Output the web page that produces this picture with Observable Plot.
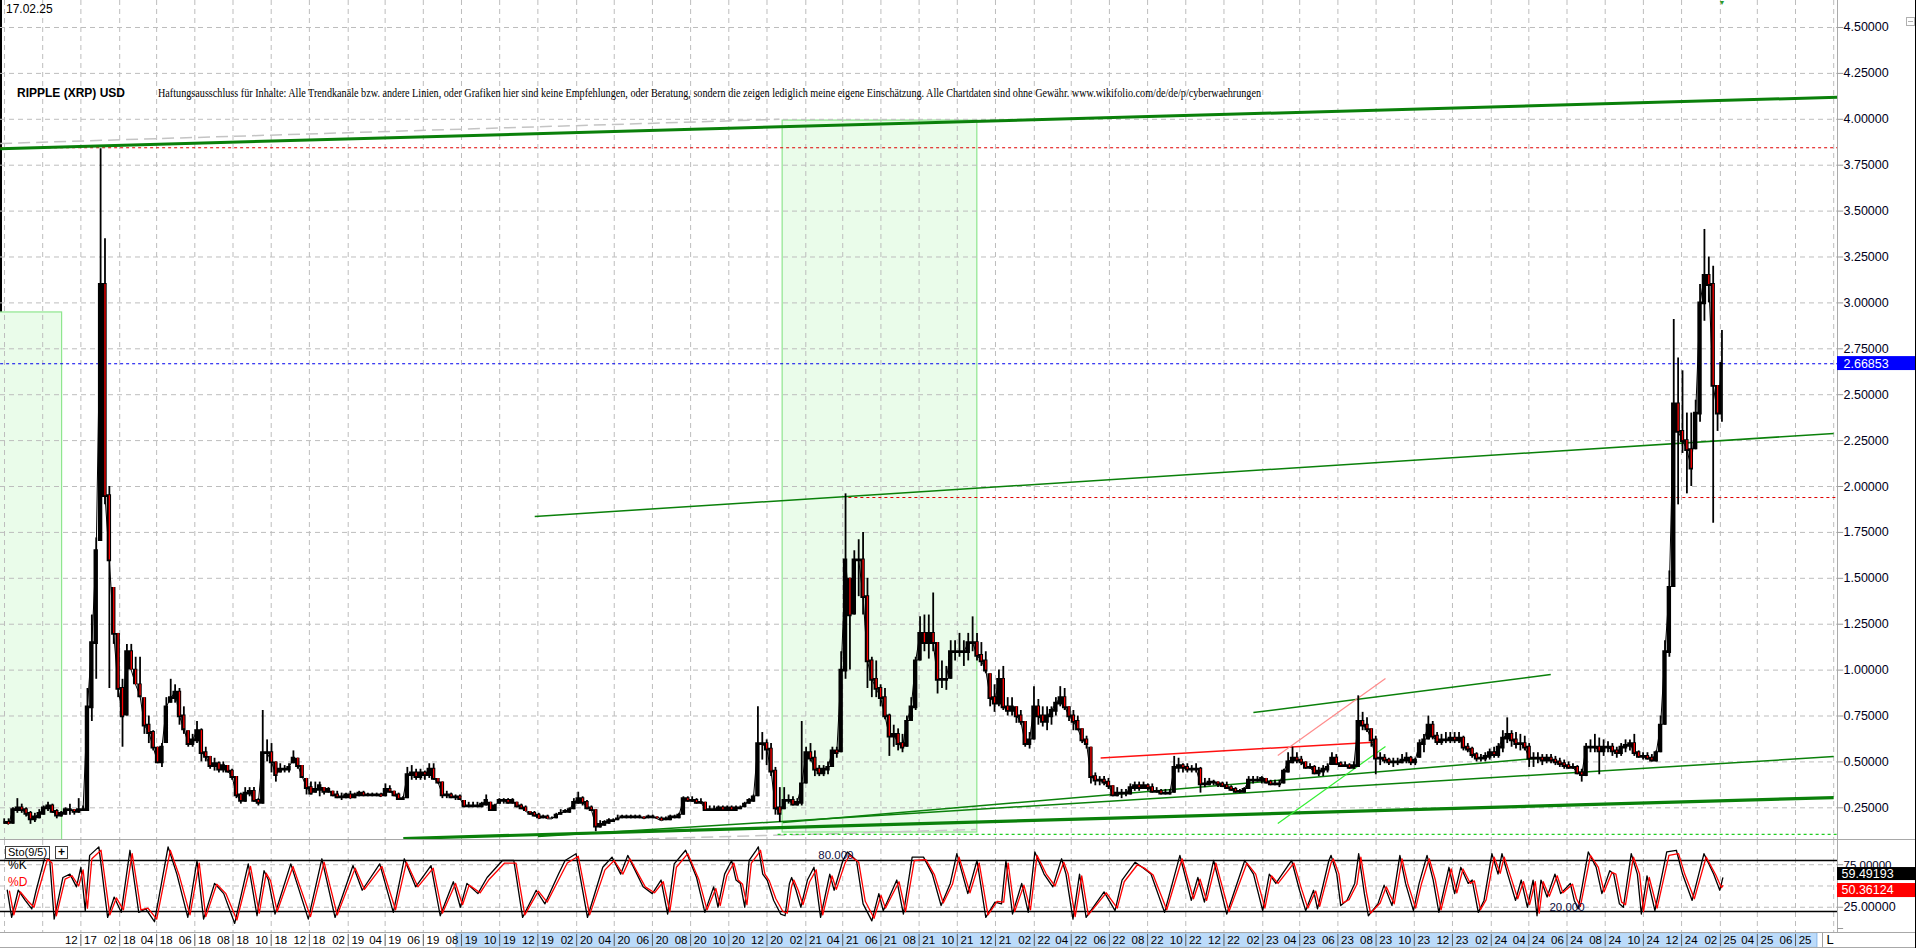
<!DOCTYPE html>
<html><head><meta charset="utf-8">
<script src="https://cdn.jsdelivr.net/npm/d3@7"></script>
<script src="https://cdn.jsdelivr.net/npm/@observablehq/plot@0.6"></script>
<style>
html,body{margin:0;padding:0;background:#fff;overflow:hidden}
#wrap{position:relative;width:1916px;height:948px;font-family:"Liberation Sans",Arial,sans-serif;overflow:hidden}
#wrap > svg, #wrap > div{position:absolute}
.hl{position:absolute;height:1px;background:#a8a8a8}
</style></head><body><div id="wrap"></div>
<script>
// ---------------- data (weekly bars) ----------------
const weekHigh = [
0.19,0.19,0.25,0.30,0.27,0.25,0.23,0.22,0.24,0.26,
0.28,0.27,0.24,0.23,0.25,0.27,0.24,0.30,0.26,0.90,
1.30,1.72,3.84,3.35,2.00,1.45,1.20,0.95,1.14,1.14,
1.07,1.07,0.85,0.75,0.67,0.58,0.60,0.85,0.95,0.92,
0.90,0.80,0.67,0.65,0.72,0.68,0.58,0.53,0.52,0.50,
0.50,0.48,0.46,0.42,0.33,0.36,0.36,0.36,0.30,0.78,
0.62,0.60,0.50,0.49,0.48,0.49,0.56,0.52,0.48,0.41,
0.39,0.39,0.39,0.36,0.36,0.34,0.34,0.33,0.33,0.34,
0.33,0.34,0.34,0.33,0.33,0.33,0.33,0.38,0.37,0.34,
0.33,0.31,0.47,0.48,0.46,0.46,0.45,0.49,0.49,0.41,
0.39,0.34,0.33,0.32,0.32,0.29,0.28,0.28,0.28,0.28,
0.32,0.28,0.27,0.30,0.30,0.30,0.30,0.28,0.27,0.26,
0.23,0.23,0.22,0.21,0.21,0.20,0.22,0.24,0.24,0.25,
0.30,0.335,0.31,0.29,0.26,0.24,0.18,0.18,0.19,0.19,
0.21,0.21,0.21,0.21,0.21,0.21,0.20,0.21,0.21,0.20,
0.20,0.20,0.21,0.21,0.22,0.31,0.31,0.31,0.30,0.30,
0.28,0.26,0.26,0.26,0.26,0.26,0.26,0.26,0.26,0.28,
0.30,0.32,0.80,0.66,0.62,0.60,0.47,0.36,0.36,0.32,
0.31,0.30,0.72,0.58,0.60,0.56,0.48,0.48,0.50,0.58,
0.58,1.10,1.96,1.50,1.65,1.71,1.75,1.50,1.07,1.05,
0.92,0.90,0.76,0.70,0.68,0.65,0.75,0.85,1.07,1.29,
1.30,1.30,1.42,1.15,1.05,1.02,1.16,1.16,1.20,1.16,
1.20,1.29,1.20,1.15,1.10,0.98,0.92,1.00,1.02,0.85,
0.85,0.80,0.78,0.72,0.66,0.91,0.84,0.80,0.80,0.80,
0.85,0.91,0.90,0.80,0.78,0.75,0.68,0.64,0.58,0.44,
0.42,0.42,0.41,0.37,0.36,0.35,0.35,0.38,0.39,0.39,
0.39,0.38,0.38,0.36,0.35,0.35,0.35,0.53,0.52,0.49,
0.49,0.48,0.49,0.47,0.41,0.41,0.40,0.39,0.39,0.39,
0.37,0.36,0.35,0.36,0.42,0.42,0.42,0.42,0.41,0.40,
0.40,0.40,0.46,0.55,0.58,0.55,0.53,0.50,0.49,0.48,
0.47,0.48,0.49,0.55,0.54,0.50,0.50,0.49,0.50,0.86,
0.77,0.74,0.68,0.64,0.55,0.54,0.52,0.52,0.52,0.54,
0.55,0.53,0.52,0.62,0.65,0.75,0.72,0.66,0.65,0.66,
0.66,0.66,0.66,0.64,0.60,0.58,0.55,0.54,0.55,0.57,
0.58,0.60,0.67,0.74,0.67,0.66,0.65,0.64,0.60,0.55,
0.55,0.54,0.54,0.54,0.53,0.52,0.51,0.50,0.49,0.48,
0.46,0.60,0.62,0.65,0.63,0.62,0.61,0.60,0.58,0.60,
0.62,0.62,0.65,0.56,0.55,0.55,0.54,0.56,0.75,1.16,
1.54,2.91,2.70,2.63,2.40,2.40,2.47,3.10,3.40,3.25,
3.20,2.55,2.85];
const weekLow = [
0.16,0.16,0.16,0.22,0.22,0.20,0.16,0.17,0.19,0.21,
0.23,0.22,0.19,0.20,0.21,0.21,0.21,0.22,0.23,0.23,
0.72,0.95,1.70,1.90,0.90,1.14,0.85,0.58,0.75,1.00,
0.92,0.85,0.65,0.60,0.56,0.49,0.47,0.60,0.82,0.82,
0.70,0.65,0.58,0.58,0.60,0.50,0.50,0.46,0.45,0.44,
0.44,0.44,0.40,0.30,0.27,0.28,0.31,0.28,0.26,0.27,
0.50,0.44,0.39,0.44,0.44,0.44,0.49,0.46,0.41,0.32,
0.32,0.33,0.31,0.32,0.33,0.31,0.30,0.29,0.30,0.30,
0.30,0.31,0.31,0.31,0.31,0.31,0.31,0.31,0.33,0.31,
0.29,0.29,0.30,0.40,0.40,0.40,0.40,0.41,0.40,0.38,
0.30,0.30,0.30,0.29,0.29,0.25,0.25,0.25,0.25,0.25,
0.26,0.23,0.23,0.27,0.27,0.27,0.27,0.25,0.24,0.23,
0.21,0.20,0.19,0.19,0.19,0.19,0.19,0.21,0.22,0.22,
0.24,0.27,0.26,0.24,0.23,0.12,0.14,0.15,0.16,0.17,
0.18,0.19,0.19,0.19,0.19,0.19,0.19,0.19,0.19,0.19,
0.18,0.18,0.18,0.19,0.19,0.21,0.28,0.28,0.27,0.27,
0.23,0.23,0.23,0.23,0.23,0.23,0.23,0.23,0.24,0.25,
0.27,0.28,0.31,0.51,0.48,0.42,0.21,0.17,0.24,0.27,
0.26,0.26,0.26,0.38,0.50,0.42,0.42,0.42,0.43,0.47,
0.52,0.55,0.95,1.00,1.30,1.40,1.30,0.90,0.85,0.85,
0.80,0.73,0.53,0.58,0.56,0.55,0.58,0.72,0.78,1.05,
1.10,1.06,1.10,0.87,0.90,0.89,0.95,1.05,1.07,1.02,
1.05,1.10,1.05,1.02,0.98,0.80,0.77,0.80,0.78,0.75,
0.75,0.71,0.70,0.58,0.57,0.62,0.70,0.69,0.67,0.70,
0.75,0.80,0.78,0.72,0.67,0.67,0.60,0.57,0.38,0.37,
0.37,0.37,0.35,0.31,0.31,0.30,0.31,0.32,0.34,0.34,
0.35,0.34,0.33,0.33,0.32,0.32,0.32,0.33,0.44,0.44,
0.44,0.44,0.44,0.33,0.36,0.37,0.37,0.36,0.36,0.35,
0.34,0.33,0.33,0.33,0.35,0.38,0.39,0.38,0.38,0.37,
0.37,0.36,0.38,0.44,0.49,0.49,0.48,0.46,0.46,0.43,
0.42,0.42,0.44,0.48,0.48,0.47,0.47,0.46,0.46,0.47,
0.67,0.66,0.58,0.43,0.48,0.49,0.48,0.47,0.48,0.49,
0.49,0.48,0.48,0.52,0.55,0.62,0.62,0.59,0.59,0.60,
0.60,0.60,0.60,0.56,0.55,0.52,0.50,0.50,0.50,0.51,
0.52,0.52,0.55,0.60,0.58,0.57,0.56,0.56,0.47,0.47,
0.49,0.48,0.49,0.49,0.48,0.47,0.46,0.46,0.46,0.43,
0.39,0.42,0.55,0.55,0.43,0.53,0.55,0.53,0.52,0.53,
0.55,0.56,0.53,0.52,0.51,0.51,0.50,0.50,0.55,0.70,
1.07,1.45,1.90,2.18,1.96,2.00,2.20,2.35,2.90,3.00,
1.80,2.30,2.35];
const weekClose = [
0.17,0.16,0.24,0.25,0.24,0.22,0.19,0.20,0.22,0.25,
0.26,0.23,0.21,0.22,0.24,0.24,0.23,0.24,0.24,0.80,
1.15,1.65,3.10,1.95,1.60,1.20,0.90,0.75,1.10,1.00,
0.92,0.86,0.70,0.66,0.58,0.50,0.58,0.80,0.85,0.88,
0.75,0.68,0.60,0.62,0.67,0.55,0.53,0.48,0.49,0.46,
0.48,0.45,0.42,0.32,0.29,0.33,0.34,0.29,0.28,0.55,
0.55,0.50,0.43,0.46,0.46,0.47,0.52,0.48,0.42,0.36,
0.33,0.35,0.37,0.34,0.35,0.32,0.31,0.31,0.32,0.30,
0.32,0.33,0.32,0.32,0.32,0.32,0.31,0.35,0.34,0.32,
0.30,0.30,0.43,0.44,0.42,0.44,0.43,0.46,0.41,0.39,
0.32,0.32,0.31,0.31,0.30,0.26,0.26,0.26,0.26,0.27,
0.29,0.24,0.26,0.29,0.29,0.28,0.29,0.26,0.25,0.23,
0.22,0.21,0.19,0.20,0.19,0.19,0.21,0.22,0.23,0.24,
0.28,0.30,0.28,0.25,0.24,0.15,0.16,0.17,0.18,0.18,
0.19,0.20,0.20,0.20,0.20,0.20,0.19,0.20,0.20,0.19,
0.18,0.19,0.20,0.20,0.21,0.30,0.29,0.29,0.28,0.28,
0.24,0.24,0.24,0.25,0.24,0.25,0.24,0.25,0.25,0.27,
0.29,0.31,0.60,0.60,0.57,0.45,0.25,0.22,0.29,0.29,
0.27,0.28,0.38,0.55,0.52,0.46,0.44,0.46,0.47,0.56,
0.55,1.00,1.60,1.30,1.60,1.60,1.40,1.05,0.95,0.90,
0.85,0.75,0.64,0.65,0.60,0.58,0.72,0.80,1.05,1.20,
1.15,1.20,1.15,0.95,0.95,0.95,1.10,1.10,1.10,1.10,
1.15,1.15,1.08,1.05,1.00,0.85,0.82,0.95,0.80,0.78,
0.80,0.75,0.72,0.60,0.62,0.80,0.75,0.72,0.75,0.78,
0.82,0.85,0.80,0.75,0.72,0.68,0.62,0.60,0.42,0.40,
0.40,0.39,0.37,0.32,0.33,0.33,0.33,0.36,0.37,0.36,
0.37,0.36,0.34,0.34,0.33,0.33,0.33,0.47,0.48,0.47,
0.46,0.46,0.46,0.38,0.38,0.39,0.39,0.38,0.37,0.36,
0.35,0.34,0.34,0.35,0.40,0.40,0.40,0.41,0.39,0.38,
0.38,0.38,0.45,0.50,0.52,0.51,0.50,0.47,0.47,0.44,
0.45,0.46,0.47,0.52,0.49,0.48,0.48,0.47,0.48,0.72,
0.70,0.68,0.62,0.52,0.52,0.51,0.50,0.50,0.50,0.51,
0.52,0.50,0.51,0.60,0.62,0.70,0.64,0.61,0.62,0.62,
0.63,0.62,0.63,0.58,0.57,0.54,0.52,0.52,0.53,0.55,
0.54,0.58,0.63,0.65,0.62,0.60,0.60,0.58,0.52,0.52,
0.52,0.51,0.52,0.51,0.50,0.49,0.48,0.47,0.47,0.44,
0.43,0.58,0.58,0.58,0.56,0.58,0.58,0.56,0.55,0.58,
0.59,0.60,0.55,0.53,0.53,0.52,0.51,0.55,0.70,1.10,
1.45,2.45,2.30,2.25,2.20,2.10,2.40,3.00,3.15,3.10,
2.55,2.40,2.67];

// Stochastic (9/5): [week index, value] turning points
const stochK = [
[0.7,45],[1.7,13],[3.2,45],[4.8,33],[6.3,23],[7.3,45],[9.4,86],[10.4,80],[11.4,11],[13.4,60],[15.0,64],[16.5,49],[17.5,72],[18.5,21],[19.5,86],[21.6,96],[23.6,13],[25.1,37],[26.7,19],[28.7,92],[30.7,19],[32.3,23],[34.3,8],[37.4,96],[39.4,64],[41.9,13],[44.0,80],[45.5,11],[48.0,53],[50.1,41],[52.6,6],[55.7,76],[57.7,15],[59.3,68],[60.3,57],[61.8,17],[65.4,76],[69.4,11],[72.5,82],[75.5,13],[79.6,74],[81.7,45],[85.7,76],[88.8,19],[91.3,82],[93.9,49],[97.4,74],[99.5,15],[102.5,55],[104.1,25],[105.6,53],[108.1,41],[110.2,60],[113.7,80],[116.3,80],[118.3,13],[121.4,45],[123.4,29],[126.5,64],[128.0,80],[130.5,88],[133.1,13],[136.6,72],[138.7,84],[140.7,64],[142.3,86],[145.8,49],[147.9,41],[149.9,57],[151.4,17],[152.9,76],[155.5,92],[158.0,60],
[159.9,19],[161.9,49],[162.9,25],[164.4,64],[166.0,80],[167.0,57],[168.0,53],[169.0,25],[170.0,80],[171.6,92],[172.1,96],[173.1,64],[174.1,57],[175.6,33],[177.2,17],[178.2,15],[179.2,53],[179.7,60],[180.7,45],[181.8,25],[183.3,57],[184.8,72],[186.3,13],[188.4,64],[189.4,45],[191.4,80],[192.4,90],[194.5,80],[196.0,29],[198.0,9],[199.6,41],[200.6,21],[203.7,57],[205.2,17],[207.2,84],[209.8,84],[211.8,64],[213.8,27],[215.9,53],[217.4,88],[219.9,41],[222.0,80],[224.0,13],[226.1,31],[227.6,29],[228.6,80],[230.1,17],[232.2,53],[233.7,19],[235.2,90],[237.3,64],[239.3,49],[241.3,82],[242.3,64],[243.9,11],[245.4,64],[246.9,13],[251.0,43],[253.5,21],[255.1,57],[258.1,78],[259.7,72],[261.7,64],[264.8,19],[268.3,86],[270.9,33],[272.4,60],[273.9,31],[276.0,80],[279.0,17],[283.1,80],[285.1,64],[287.2,21],[288.7,64],[290.2,53],[293.8,80],
[295.6,45],[297.0,21],[298.8,45],[299.7,23],[302.3,80],[302.8,86],[304.1,64],[305.0,27],[306.4,33],[308.2,53],[309.1,88],[310.4,41],[311.3,15],[313.5,29],[314.9,51],[316.7,27],[318.5,86],[319.8,53],[321.6,21],[322.9,53],[324.7,86],[326.1,57],[327.4,19],[329.7,72],[331.0,41],[332.4,72],[334.1,53],[335.0,57],[336.4,19],[337.7,33],[339.5,88],[340.9,64],[341.8,88],[343.1,64],[344.9,33],[346.2,57],[347.6,25],[348.9,57],[349.8,15],[350.7,57],[352.1,37],[353.9,64],[355.2,41],[357.4,53],[358.3,33],[359.2,23],[361.5,90],[363.3,72],[364.6,41],[366.4,68],[367.3,64],[368.6,29],[369.5,25],[371.3,88],[372.7,64],[373.6,17],[374.9,62],[376.7,21],[379.4,90],[381.6,92],[383.0,64],[385.2,33],[387.9,88],[390.1,64],[391.5,45],[392.2,59.49]
];
const stochD = [
[1.2,44],[2.2,16],[3.7,43],[5.3,33],[6.8,25],[7.8,44],[9.9,82],[10.9,77],[11.9,15],[13.9,58],[15.5,62],[17.0,50],[18.0,69],[19.0,24],[20.0,82],[22.1,92],[24.1,16],[25.6,36],[27.2,22],[29.2,88],[31.2,22],[32.8,24],[34.8,11],[37.9,92],[39.9,63],[42.4,16],[44.5,77],[46.0,14],[48.5,52],[50.6,41],[53.1,10],[56.2,73],[58.2,18],[59.8,65],[60.8,56],[62.3,20],[65.9,73],[69.9,14],[73.0,78],[76.0,16],[80.1,71],[82.2,46],[86.2,73],[89.3,22],[91.8,78],[94.4,49],[97.9,71],[100.0,18],[103.0,53],[104.6,28],[106.1,51],[108.6,42],[110.7,58],[114.2,77],[116.8,77],[118.8,16],[121.9,44],[123.9,31],[127.0,62],[128.5,77],[131.0,85],[133.6,16],[137.1,69],[139.2,80],[141.2,64],[142.8,82],[146.3,49],[148.4,42],[150.4,55],[151.9,20],[153.4,72],[156.0,88],[158.5,58],
[160.4,22],[162.4,47],[163.4,27],[164.9,62],[166.5,77],[167.5,57],[168.5,52],[169.5,28],[170.5,77],[172.1,88],[172.6,92],[173.6,64],[174.6,56],[176.1,35],[177.7,20],[178.7,18],[179.7,50],[180.2,57],[181.2,45],[182.3,28],[183.8,55],[185.3,69],[186.8,16],[188.9,62],[189.9,46],[191.9,77],[192.9,86],[195.0,78],[196.5,32],[198.5,12],[200.1,39],[201.1,24],[204.2,55],[205.7,20],[207.7,80],[210.3,81],[212.3,63],[214.3,30],[216.4,52],[217.9,84],[220.4,42],[222.5,77],[224.5,16],[226.6,32],[228.1,31],[229.1,77],[230.6,20],[232.7,51],[234.2,22],[235.7,86],[237.8,64],[239.8,50],[241.8,78],[242.8,64],[244.4,14],[245.9,62],[247.4,16],[251.5,42],[254.0,24],[255.6,55],[258.6,75],[260.2,71],[262.2,63],[265.3,22],[268.8,82],[271.4,35],[272.9,58],[274.4,33],[276.5,77],[279.5,20],[283.6,77],[285.6,64],[287.7,24],[289.2,62],[290.7,53],[294.3,77],
[296.1,46],[297.5,24],[299.3,44],[300.2,26],[302.8,77],[303.3,82],[304.6,64],[305.5,30],[306.9,34],[308.7,52],[309.6,84],[310.9,42],[311.8,18],[314.0,30],[315.4,49],[317.2,29],[319.0,82],[320.3,53],[322.1,24],[323.4,52],[325.2,82],[326.6,57],[327.9,22],[330.2,70],[331.5,42],[332.9,70],[334.6,53],[335.5,56],[336.9,22],[338.2,34],[340.0,84],[341.4,65],[342.3,84],[343.6,64],[345.4,35],[346.7,55],[348.1,28],[349.4,55],[350.3,18],[351.2,55],[352.6,38],[354.4,62],[355.7,42],[357.9,52],[358.8,35],[359.7,26],[362.0,86],[363.8,72],[365.1,43],[366.9,66],[367.8,64],[369.1,31],[370.0,28],[371.8,84],[373.2,64],[374.1,20],[375.4,60],[377.2,24],[379.9,86],[382.1,88],[383.5,64],[385.7,35],[388.4,84],[390.6,63],[391.9,48],[392.2,50.36]
];

// levels, tick labels, drawn lines
const priceTicks = [0.25,0.5,0.75,1,1.25,1.5,1.75,2,2.25,2.5,2.75,3,3.25,3.5,3.75,4,4.25,4.5];
const stochTicks = [25,50,75];
const stochBands = [20,80];
const lastPrice = 2.66853;
const lastK = 59.49193, lastD = 50.36124;
const monthLabels = ["12 17","02 18","04 18","06 18","08 18","10 18","12 18","02 19","04 19","06 19","08 19","10 19","12 19","02 20","04 20","06 20","08 20","10 20","12 20","02 21","04 21","06 21","08 21","10 21","12 21","02 22","04 22","06 22","08 22","10 22","12 22","02 23","04 23","06 23","08 23","10 23","12 23","02 24","04 24","06 24","08 24","10 24","12 24","02 25","04 25","06 25"];
const greenZoneLeft = ["2017-07-20","2017-11-01",0,2.948];
const greenZone2021 = ["2020-12-26","2021-11-02",0.1155,3.993];
const topChannel = ["2017-07-25",3.84,"2025-08-07",4.12];
const topGhost = ["2017-07-25",3.868,"2020-12-21",4.0];
const resistance2021 = ["2019-11-26",1.837,"2025-08-01",2.289];
const supportThick = ["2019-04-30",0.083,"2025-08-01",0.306];
const supportThin = ["2019-12-01",0.094,"2025-08-01",0.529];
const support2020 = ["2020-12-26",0.170,"2024-05-01",0.524];
const channel2023 = ["2023-01-17",0.769,"2024-05-06",0.976];
const redLine2022 = ["2022-05-18",0.522,"2023-07-28",0.607];
const pinkLine2023 = ["2023-02-25",0.535,"2023-08-16",0.954];
const limeLine2023 = ["2023-02-25",0.165,"2023-08-16",0.584];
const grayBottom = ["2020-04-25",0.078,"2021-10-31",0.132];
const athLevel = ["2017-07-25",3.845];
const peak2021Level = ["2021-04-10",1.94];
const lowLevel = ["2020-12-18",0.105];
const blueBand = ["2019-07-24","2025-07-06"];

// ---------------- helpers ----------------
const DAY = 864e5;
const weekStart = Date.UTC(2017, 6, 28);
const weekDate = i => new Date(weekStart + (i * 7 + 3.5) * DAY);
const xDomain = [new Date("2017-07-25T14:00:00Z"), new Date("2025-08-07T02:00:00Z")];
const xFar = d3.utcDay.offset(xDomain[1], 400);
const xTick = d3.utcDay.offset(xDomain[1], 9);
const FONT = "'Liberation Sans', Arial, sans-serif";

const weeks = weekHigh.map((hi, i) => ({
  date: weekDate(i), hi, lo: weekLow[i], cl: weekClose[i],
  op: i ? weekClose[i - 1] : weekClose[0]
}));
const downWeeks = weeks.filter(d => d.cl < d.op).map(d => ({...d, top: Math.min(d.op, d.hi)}));
const kData = stochK.map(([i, v]) => ({date: weekDate(i), v}));
const dData = stochD.map(([i, v]) => ({date: weekDate(i), v}));
const labelDate = s => new Date(Date.UTC(2000 + +s.slice(3), +s.slice(0, 2) - 1, 1));
const gridDates = d3.utcMonth.range(new Date("2017-08-01"), new Date("2025-08-02")).filter(d => d.getUTCMonth() % 2 === 1);

const seg = (a, o) => Plot.link([a], {x1: d => new Date(d[0]), y1: d => d[1], x2: d => new Date(d[2]), y2: d => d[3], ...o});
const level = (a, o) => Plot.link([a], {x1: d => new Date(d[0]), y1: d => d[1], x2: () => xDomain[1], y2: d => d[1], ...o});
const zone = a => Plot.rect([a], {x1: d => new Date(d[0]), x2: d => new Date(d[1]), y1: d => d[2], y2: d => d[3], fill: "#eafcea", stroke: "#8fe68f", strokeWidth: 1.2});

const wrap = document.getElementById("wrap");

// ---------------- main price panel ----------------
const main = Plot.plot({
  width: 1916, height: 840, marginLeft: 0, marginRight: 79, marginTop: 0, marginBottom: 0,
  style: {fontFamily: FONT, fontSize: "12px", background: "transparent"},
  x: {type: "utc", domain: xDomain, axis: null},
  y: {domain: [0.072, 4.647], axis: null},
  marks: [
    Plot.ruleX([xDomain[0]], {stroke: "#000", strokeWidth: 3}),
    zone(greenZoneLeft),
    zone(greenZone2021),
    Plot.ruleY(priceTicks, {stroke: "#bdbdbd", strokeDasharray: "5,4"}),
    Plot.ruleX(gridDates, {stroke: "#bdbdbd", strokeDasharray: "5,4"}),
    seg(topGhost, {stroke: "#c4c4c4", strokeWidth: 1.5, strokeDasharray: "12,6"}),
    seg(grayBottom, {stroke: "#c8c8c8", strokeWidth: 1.5, strokeDasharray: "12,6"}),
    level(athLevel, {stroke: "#e00000", strokeDasharray: "3,3", strokeWidth: 1}),
    level(peak2021Level, {stroke: "#e00000", strokeDasharray: "3,3", strokeWidth: 1}),
    level(lowLevel, {stroke: "#22cc22", strokeDasharray: "3,3", strokeWidth: 1.2}),
    level(["2017-07-25", lastPrice], {stroke: "#0000ee", strokeDasharray: "3,3", strokeWidth: 1.2}),
    seg(topChannel, {stroke: "#0a800a", strokeWidth: 3}),
    seg(resistance2021, {stroke: "#0a800a", strokeWidth: 1.5}),
    seg(supportThick, {stroke: "#0a800a", strokeWidth: 3.2}),
    seg(supportThin, {stroke: "#0a800a", strokeWidth: 1.5}),
    seg(support2020, {stroke: "#0a800a", strokeWidth: 1.5}),
    seg(channel2023, {stroke: "#0a800a", strokeWidth: 1.5}),
    seg(redLine2022, {stroke: "#ff1010", strokeWidth: 1.5}),
    seg(pinkLine2023, {stroke: "#ff8c8c", strokeWidth: 1.2}),
    seg(limeLine2023, {stroke: "#33ee33", strokeWidth: 1.2}),
    Plot.areaY(weeks, {x: "date", y1: d => Math.max(d.lo, Math.min(d.op, d.cl) - 0.01), y2: d => Math.min(d.hi, Math.max(d.op, d.cl) + 0.005), curve: "step", fill: "#000"}),
    Plot.line(weeks, {x: "date", y: "cl", stroke: "#000", strokeWidth: 1}),
    Plot.ruleX(weeks, {x: "date", y1: "lo", y2: "hi", stroke: "#000", strokeWidth: 1.8}),
    Plot.ruleX(downWeeks, {x: "date", y1: "cl", y2: "top", stroke: "#ff0000", strokeWidth: 1.3}),
    Plot.ruleX([xDomain[1]], {stroke: "#ababab", strokeWidth: 1}),
    Plot.link(priceTicks, {x1: () => xDomain[1], x2: () => xTick, y1: d => d, y2: d => d, stroke: "#9a9a9a"}),
    Plot.text(priceTicks, {x: () => xDomain[1], y: d => d, text: d => d.toFixed(5), textAnchor: "start", dx: 6, fontSize: 12.5, fill: "#00001a"}),
    Plot.rect([lastPrice], {x1: () => xDomain[1], x2: () => xFar, y1: d => d - 0.037, y2: d => d + 0.039, fill: "#0000ff"}),
    Plot.text([lastPrice], {x: () => xDomain[1], y: d => d, text: d => d.toFixed(5), textAnchor: "start", dx: 6, fontSize: 12.5, fill: "#fff"}),
    Plot.text([weekHigh.length - 1], {x: i => weekDate(i), y: 4.635, text: () => "▼", fill: "#2a9a2a", fontSize: 7})
  ]
});
main.style.top = "0px";
main.style.left = "0px";
wrap.appendChild(main);

// ---------------- stochastic panel ----------------
const sto = Plot.plot({
  width: 1916, height: 92, marginLeft: 0, marginRight: 79, marginTop: 0, marginBottom: 0,
  style: {fontFamily: FONT, fontSize: "12px", background: "transparent"},
  x: {type: "utc", domain: xDomain, axis: null},
  y: {domain: [-4.7, 103.5], axis: null},
  marks: [
    Plot.ruleY(stochTicks, {stroke: "#bdbdbd", strokeDasharray: "5,4"}),
    Plot.ruleX(gridDates, {stroke: "#bdbdbd", strokeDasharray: "5,4"}),
    Plot.ruleY(stochBands, {x1: () => xDomain[0], x2: () => xDomain[1], y: d => d, stroke: "#000", strokeWidth: 1.5}),
    Plot.line(kData, {x: "date", y: "v", stroke: "#000", strokeWidth: 1.3}),
    Plot.line(dData, {x: "date", y: "v", stroke: "#ff0000", strokeWidth: 1.3}),
    Plot.text([80], {x: () => new Date("2021-03-21"), y: d => d, text: () => "80.000", lineAnchor: "bottom", dy: -1, fontSize: 11.5, fill: "#101040"}),
    Plot.text([20], {x: () => new Date("2024-06-01"), y: d => d, text: () => "20.000", lineAnchor: "bottom", dy: 0, fontSize: 11.5, fill: "#101040"}),
    Plot.ruleX([xDomain[1]], {stroke: "#ababab"}),
    Plot.link([0, ...stochTicks], {x1: () => xDomain[1], x2: () => xTick, y1: d => d, y2: d => d, stroke: "#9a9a9a"}),
    Plot.text([75], {x: () => xDomain[1], y: d => d, text: d => d.toFixed(5), textAnchor: "start", lineAnchor: "bottom", dx: 6, dy: 4, fontSize: 11.5, fill: "#00001a"}),
    Plot.text([25], {x: () => xDomain[1], y: d => d, text: d => d.toFixed(5), textAnchor: "start", dx: 6, fontSize: 12.5, fill: "#00001a"}),
    Plot.rect([lastK], {x1: () => xDomain[1], x2: () => xFar, y1: 56.4, y2: 71.7, fill: "#000"}),
    Plot.text([lastK], {x: () => xDomain[1], y: 64, text: d => d.toFixed(5), textAnchor: "start", dx: 4, fontSize: 12.5, fill: "#fff"}),
    Plot.rect([lastD], {x1: () => xDomain[1], x2: () => xFar, y1: 36.4, y2: 52.9, fill: "#ff0000"}),
    Plot.text([lastD], {x: () => xDomain[1], y: 44.7, text: d => d.toFixed(5), textAnchor: "start", dx: 4, fontSize: 12.5, fill: "#fff"})
  ]
});
sto.style.top = "840px";
sto.style.left = "0px";
wrap.appendChild(sto);

// ---------------- date strip ----------------
const strip = Plot.plot({
  width: 1916, height: 16, marginLeft: 0, marginRight: 79, marginTop: 0, marginBottom: 0,
  style: {fontFamily: FONT, fontSize: "11px", background: "transparent"},
  x: {type: "utc", domain: xDomain, axis: null},
  y: {domain: [0, 1], axis: null},
  marks: [
    Plot.rect([blueBand], {x1: d => new Date(d[0]), x2: d => new Date(d[1]), y1: 0.04, y2: 0.96, fill: "#bcdbfa", stroke: "#86b6ea"}),
    Plot.ruleX(monthLabels, {x: labelDate, y1: 0.12, y2: 0.88, stroke: "#5a5a5a"}),
    Plot.text(monthLabels, {x: labelDate, y: 0.5, text: d => d.replace(" ", "  "), fontSize: 11.5, fill: "#000"})
  ]
});
strip.style.top = "932px";
strip.style.left = "0px";
wrap.appendChild(strip);

// ---------------- frame & texts ----------------
const addDiv = (cls, css, html) => { const e = document.createElement("div"); if (cls) e.className = cls; e.style.cssText = css; if (html) e.innerHTML = html; wrap.appendChild(e); return e; };
addDiv("hl", "left:0;top:839px;width:1916px;");
addDiv("hl", "left:0;top:932px;width:1916px;");
addDiv("hl", "left:0;top:947px;width:1916px;");
addDiv("", "left:1915px;top:0;width:1px;height:948px;background:#000;");
addDiv("", "left:1822px;top:933px;width:14px;height:14px;border-left:1px solid #a0a0a0;font-size:13px;line-height:14px;text-align:center;color:#000;", "L");
addDiv("", "left:1906px;top:17px;width:7px;height:7px;border:1px solid #b0b0b0;background:#fff;", "<div style='position:absolute;left:1px;top:3px;width:5px;height:1px;background:#b0b0b0'></div>");
addDiv("", "left:6px;top:2px;font-size:12px;line-height:14px;color:#000;", "17.02.25");
addDiv("", "left:17px;top:86px;font-size:12px;font-weight:bold;line-height:14px;color:#000;", "RIPPLE (XRP) USD");
const disc = document.createElementNS("http://www.w3.org/2000/svg", "svg");
disc.setAttribute("width", "1916"); disc.setAttribute("height", "110");
disc.style.cssText = "position:absolute;left:0;top:0;";
disc.innerHTML = "<text x='158' y='97' font-family=\"'Liberation Serif', 'DejaVu Serif', serif\" font-size='11.5' textLength='1103' lengthAdjust='spacingAndGlyphs' fill='#000'>Haftungsausschluss für Inhalte: Alle Trendkanäle bzw. andere Linien, oder Grafiken hier sind keine Empfehlungen, oder Beratung, sondern die zeigen lediglich meine eigene Einschätzung. Alle Chartdaten sind ohne Gewähr.  www.wikifolio.com/de/de/p/cyberwaehrungen</text>";
wrap.appendChild(disc);
addDiv("", "left:5px;top:846px;height:11px;border:1px solid #404040;background:#fff;font-size:11px;line-height:11px;padding:0 2px;color:#000;", "Sto(9/5)");
addDiv("", "left:55px;top:846px;width:11px;height:11px;border:1px solid #404040;background:#fff;font-size:12px;font-weight:bold;line-height:11px;text-align:center;color:#000;", "+");
addDiv("", "left:8px;top:859px;font-size:12px;line-height:13px;color:#000;", "%K");
addDiv("", "left:8px;top:876px;font-size:12px;line-height:13px;color:#ff0000;", "%D");
</script></body></html>
